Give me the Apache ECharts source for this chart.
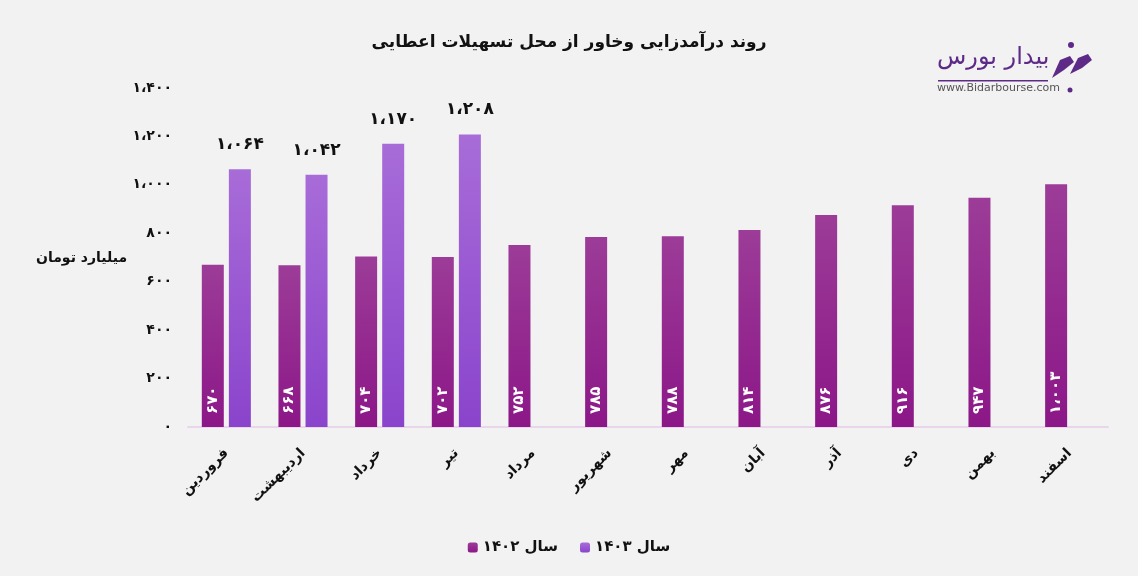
<!DOCTYPE html>
<html>
<head>
<meta charset="utf-8">
<script src="https://cdn.jsdelivr.net/npm/echarts@6/dist/echarts.min.js"></script>
<style>
html,body{margin:0;padding:0;background:#f2f2f2;}
#c{width:1138px;height:576px;}
</style>
</head>
<body>
<div id="c"></div>
<script>
const titleText = 'روند درآمدزایی وخاور از محل تسهیلات اعطایی';
const yAxisName = 'میلیارد تومان';
const categories = ['فروردین','اردیبهشت','خرداد','تیر','مرداد','شهریور','مهر','آبان','آذر','دی','بهمن','اسفند'];
const seriesNames = ['سال ۱۴۰۲','سال ۱۴۰۳'];
const values1402 = [670, 668, 704, 702, 752, 785, 788, 814, 876, 916, 947, 1003];
const values1403 = [1064, 1042, 1170, 1208, null, null, null, null, null, null, null, null];
const yTicks = {min: 0, max: 1400, interval: 200};

const FONT = '"DejaVu Sans", "Noto Sans", sans-serif';
function toFa(n){
  const d = '۰۱۲۳۴۵۶۷۸۹';
  let s = String(Math.round(n));
  if (s.length > 3) s = s.slice(0, s.length - 3) + ',' + s.slice(s.length - 3);
  return s.replace(/[0-9]/g, c => d[+c]).replace(',', '،');
}

const chart = echarts.init(document.getElementById('c'), null, {renderer: 'canvas'});
chart.setOption({
  backgroundColor: '#f2f2f2',
  animation: false,
  title: {
    text: titleText, left: 'center', top: 29,
    textStyle: {fontFamily: FONT, fontSize: 17, fontWeight: 'bold', color: '#111'}
  },
  legend: {
    bottom: 16, left: 'center', itemWidth: 10, itemHeight: 10, itemGap: 22,
    data: seriesNames,
    textStyle: {fontFamily: FONT, fontSize: 15, fontWeight: 'bold', color: '#111'}
  },
  grid: {left: 188, right: 30, top: 88, bottom: 149},
  xAxis: {
    type: 'category', data: categories,
    axisLine: {lineStyle: {color: '#ead6ea', width: 2}},
    axisTick: {show: false},
    axisLabel: {rotate: 45, margin: 24, interval: 0, fontFamily: FONT, fontSize: 14, fontWeight: 'bold', color: '#111'}
  },
  yAxis: {
    type: 'value', min: yTicks.min, max: yTicks.max, interval: yTicks.interval,
    splitLine: {show: false}, axisLine: {show: false}, axisTick: {show: false},
    axisLabel: {margin: 16, fontFamily: FONT, fontSize: 14, fontWeight: 'bold', color: '#111', formatter: v => toFa(v)}
  },
  series: [
    {
      name: seriesNames[0], type: 'bar', data: values1402, barWidth: 22, barGap: '23%',
      itemStyle: {color: new echarts.graphic.LinearGradient(0,0,0,1,[{offset:0,color:'#9c3c98'},{offset:1,color:'#8c1788'}])},
      label: {show: true, position: 'insideBottom', rotate: 90, align: 'left', verticalAlign: 'middle', distance: 13,
        fontFamily: FONT, fontSize: 15, fontWeight: 'bold', color: '#fff', formatter: p => toFa(p.value)}
    },
    {
      name: seriesNames[1], type: 'bar', data: values1403, barWidth: 22,
      itemStyle: {color: new echarts.graphic.LinearGradient(0,0,0,1,[{offset:0,color:'#a86cd8'},{offset:1,color:'#8a44cc'}])},
      label: {show: true, position: 'top', distance: 16,
        fontFamily: FONT, fontSize: 17, fontWeight: 'bold', color: '#111', formatter: p => toFa(p.value)}
    }
  ],
  color: ['#9b1e8f', '#9b4fd4'],
  graphic: [
    {type: 'text', left: 36, top: 251, style: {text: yAxisName, font: 'bold 14px ' + FONT, fill: '#111'}},
    {type: 'text', left: 937, top: 46, style: {text: 'بیدار بورس', font: '24px ' + FONT, fill: '#5e2a88'}},
    {type: 'rect', shape: {x: 938, y: 80, width: 110, height: 1.5}, style: {fill: '#5e2a88'}},
    {type: 'text', left: 937, top: 83, style: {text: 'www.Bidarbourse.com', font: '11px ' + FONT, fill: '#555'}},
    {type: 'circle', shape: {cx: 1070, cy: 90, r: 2.5}, style: {fill: '#5e2a88'}},
    {type: 'circle', shape: {cx: 1071, cy: 45, r: 3}, style: {fill: '#5e2a88'}},
    {type: 'polygon', shape: {points: [[1052,78],[1060,60],[1070,56],[1074,62],[1064,70]]}, style: {fill: '#5e2a88'}},
    {type: 'polygon', shape: {points: [[1070,74],[1078,58],[1088,54],[1092,60],[1082,68]]}, style: {fill: '#5e2a88'}}
  ]
});
</script>
</body>
</html>
